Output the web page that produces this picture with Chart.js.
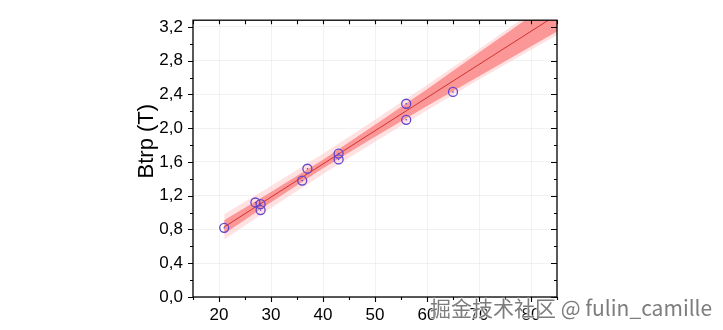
<!DOCTYPE html>
<html>
<head>
<meta charset="utf-8">
<script src="https://cdn.jsdelivr.net/npm/chart.js@4"></script>
<style>
    html, body { margin: 0; padding: 0; background: #fff; }
    #wrap { position: relative; width: 723px; height: 330px; }
    #mark {
        position: absolute; left: 430px; top: 292px;
        font: 21px "Noto Sans CJK SC", "Noto Sans", sans-serif;
        color: #7d7d7d; white-space: nowrap;
        text-shadow: 0 0 2px #fff, 0 0 2px #fff, 0 0 1px #fff;
    }
</style>
</head>
<body>
<div id="wrap">
    <canvas id="chart" width="723" height="330"></canvas>
    <div id="mark">掘金技术社区 @ fulin_camille</div>
</div>
<script>
// Measured points
const dataX = [21, 27, 28, 28, 36, 37, 43, 43, 56, 56, 65];
const dataY = [0.82, 1.12, 1.10, 1.03, 1.38, 1.52, 1.70, 1.63, 2.29, 2.10, 2.43];

// Linear fit line
const fitX = [21, 85];
const fitY = [0.83, 3.345];

// Shaded bands, read at a few x positions
const bandX = [21, 30, 40, 50, 60, 70, 85];
const innerUpper = [0.91, 1.244, 1.627, 2.04, 2.463, 2.896, 3.545];
const innerLower = [0.75, 1.124, 1.527, 1.90, 2.263, 2.616, 3.145];
const outerUpper = [0.98, 1.314, 1.697, 2.10, 2.513, 2.936, 3.585];
const outerLower = [0.68, 1.054, 1.457, 1.84, 2.213, 2.576, 3.105];

// Axis ticks
const xTicks = [20, 30, 40, 50, 60, 70, 80];
const yTicks = [0, 0.4, 0.8, 1.2, 1.6, 2.0, 2.4, 2.8, 3.2];
const xMinor = [15, 20, 25, 30, 35, 40, 45, 50, 55, 60, 65, 70, 75, 80, 85];
const yMinor = [0, 0.2, 0.4, 0.6, 0.8, 1.0, 1.2, 1.4, 1.6, 1.8, 2.0, 2.2, 2.4, 2.6, 2.8, 3.0, 3.2];

const yTitle = 'Btrp (T)';

function pts(xs, ys) {
    return xs.map((x, i) => ({ x: x, y: ys[i] }));
}

function band(ys, fill, color, order) {
    return {
        data: pts(bandX, ys),
        showLine: true,
        borderWidth: 0,
        pointRadius: 0,
        fill: fill,
        backgroundColor: color,
        order: order
    };
}

// Frame, inner/outer ticks and the rotated y title
const framePlugin = {
    id: 'frame',
    afterDraw(chart) {
        const ctx = chart.ctx;
        const a = chart.chartArea;
        const xs = chart.scales.x;
        const ys = chart.scales.y;
        ctx.save();
        ctx.strokeStyle = '#000';
        ctx.lineWidth = 1.3;
        ctx.strokeRect(a.left, a.top, a.right - a.left, a.bottom - a.top);

        ctx.lineWidth = 1.1;
        ctx.beginPath();
        xMinor.forEach(v => {
            const px = Math.round(xs.getPixelForValue(v)) + 0.5;
            const major = xTicks.includes(v);
            const len = major ? 5 : 3;
            ctx.moveTo(px, a.bottom); ctx.lineTo(px, a.bottom + len);
            ctx.moveTo(px, a.top); ctx.lineTo(px, a.top + 4);
        });
        yMinor.forEach(v => {
            const py = Math.round(ys.getPixelForValue(v)) + 0.5;
            const major = yTicks.some(t => Math.abs(t - v) < 1e-6);
            const len = major ? 5 : 3;
            ctx.moveTo(a.left, py); ctx.lineTo(a.left - len, py);
            ctx.moveTo(a.right, py); ctx.lineTo(a.right - (major ? 6 : 3), py);
        });
        ctx.stroke();

        ctx.translate(a.left - 46, a.top + 121);
        ctx.rotate(-Math.PI / 2);
        ctx.fillStyle = '#000';
        ctx.font = '22px "Liberation Sans", Arial, sans-serif';
        ctx.textAlign = 'center';
        ctx.textBaseline = 'middle';
        ctx.fillText(yTitle, 0, 0);
        ctx.restore();
    }
};

new Chart(document.getElementById('chart'), {
    type: 'scatter',
    data: {
        datasets: [
            band(outerUpper, '+1', 'rgba(255, 180, 180, 0.4)', 6),
            band(outerLower, false, 'rgba(255, 180, 180, 0.4)', 5),
            band(innerUpper, '+1', 'rgba(250, 120, 120, 0.7)', 4),
            band(innerLower, false, 'rgba(250, 120, 120, 0.7)', 3),
            {
                data: pts(fitX, fitY),
                showLine: true,
                borderColor: 'rgb(210, 50, 50)',
                borderWidth: 1,
                pointRadius: 0,
                fill: false,
                order: 2
            },
            {
                data: pts(dataX, dataY),
                pointRadius: 4.5,
                pointBorderWidth: 1.3,
                pointBorderColor: 'rgb(95, 70, 205)',
                pointBackgroundColor: 'rgba(0, 0, 0, 0)',
                order: 1
            },
            {
                data: pts(dataX, dataY),
                pointRadius: 0.8,
                pointBorderWidth: 0,
                pointBackgroundColor: 'rgb(95, 70, 205)',
                order: 0
            }
        ]
    },
    options: {
        responsive: false,
        animation: false,
        layout: { padding: { left: 0, right: 166, top: 3, bottom: 0 } },
        plugins: {
            legend: { display: false },
            tooltip: { enabled: false }
        },
        scales: {
            x: {
                type: 'linear',
                min: 15,
                max: 85,
                afterBuildTicks: s => { s.ticks = xTicks.map(v => ({ value: v })); },
                afterFit: s => { s.height = 33; },
                border: { display: false },
                grid: { color: 'rgba(0, 0, 0, 0.05)', drawTicks: false },
                ticks: {
                    padding: 8,
                    color: '#000',
                    font: { family: '"Liberation Sans", Arial, sans-serif', size: 17 }
                }
            },
            y: {
                type: 'linear',
                min: 0,
                max: 3.28,
                afterBuildTicks: s => { s.ticks = yTicks.map(v => ({ value: v })); },
                afterFit: s => { s.width = 193; },
                border: { display: false },
                grid: { color: 'rgba(0, 0, 0, 0.05)', drawTicks: false },
                ticks: {
                    padding: 10,
                    color: '#000',
                    font: { family: '"Liberation Sans", Arial, sans-serif', size: 17 },
                    callback: v => v.toFixed(1).replace('.', ',')
                }
            }
        }
    },
    plugins: [framePlugin]
});
</script>
</body>
</html>
